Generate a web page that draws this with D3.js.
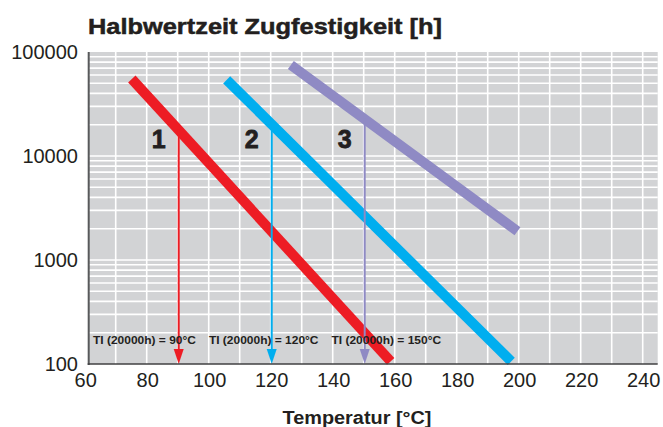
<!DOCTYPE html>
<html>
<head>
<meta charset="utf-8">
<script src="https://cdn.jsdelivr.net/npm/d3@7"></script>
<style>
  html, body { margin: 0; padding: 0; background: #fff; }
  svg { display: block; }
</style>
</head>
<body>
<svg id="chart" width="663" height="427"></svg>
<script>
// ---- data ----
const titleText = "Halbwertzeit Zugfestigkeit [h]";
const xTitleText = "Temperatur [°C]";
const seriesNames = ["1", "2", "3"];
const startTemp = [75.2, 105.8, 126.5];
const startHours = [55000, 54000, 75000];
const endTemp = [158.7, 197.6, 199.6];
const endHours = [106, 106, 1890];
const tiTemp = [90, 120, 150];
const tiHours = 20000;
const tiLabels = ["TI (20000h) = 90°C", "TI (20000h) = 120°C", "TI (20000h) = 150°C"];
const xTicks = [60, 80, 100, 120, 140, 160, 180, 200, 220, 240];
const yTicks = [100, 1000, 10000, 100000];
const seriesColors = ["#ed1c24", "#00aeef", "#8f8ac4"];

// ---- layout ----
const plotLeft = 88.7, plotRight = 657.7, plotTop = 52, plotBottom = 364;
const svg = d3.select("#chart");
const font = "Liberation Sans, Arial, sans-serif";

const x = d3.scaleLinear().domain([100, 200]).range([208.7, 518.7]);
const y = d3.scaleLog().domain([100, 100000]).range([plotBottom, plotTop]);

// background
svg.append("rect")
  .attr("x", plotLeft).attr("y", plotTop)
  .attr("width", plotRight - plotLeft).attr("height", plotBottom - plotTop)
  .attr("fill", "#d2d3d5");

// grid
const grid = svg.append("g").attr("stroke", "#ffffff").attr("stroke-width", 1.6);
const vGrid = d3.range(70, 241, 10);
grid.selectAll("line.v").data(vGrid).join("line")
  .attr("x1", d => x(d)).attr("x2", d => x(d))
  .attr("y1", plotTop).attr("y2", plotBottom);
const hGrid = [];
[100, 1000, 10000].forEach(dec => { for (let k = 2; k <= 10; k++) hGrid.push(dec * k); });
grid.selectAll("line.h").data(hGrid.filter(v => v < 100000)).join("line")
  .attr("x1", plotLeft).attr("x2", plotRight)
  .attr("y1", d => y(d)).attr("y2", d => y(d));

// thick lines
const lineGen = d3.line().x(d => x(d[0])).y(d => y(d[1]));
seriesNames.forEach((s, i) => {
  svg.append("path")
    .datum([[startTemp[i], startHours[i]], [endTemp[i], endHours[i]]])
    .attr("d", lineGen)
    .attr("stroke", seriesColors[i])
    .attr("stroke-width", 10)
    .attr("stroke-linecap", "butt")
    .attr("fill", "none");
});

// arrows
function hoursAt(i, t) {
  const f = (t - startTemp[i]) / (endTemp[i] - startTemp[i]);
  const l = Math.log10(startHours[i]) + f * (Math.log10(endHours[i]) - Math.log10(startHours[i]));
  return Math.pow(10, l);
}
seriesNames.forEach((s, i) => {
  const ax = x(tiTemp[i]) + 1;
  const top = y(hoursAt(i, tiTemp[i]));
  svg.append("line")
    .attr("x1", ax).attr("x2", ax)
    .attr("y1", top).attr("y2", plotBottom - 10)
    .attr("stroke", seriesColors[i]).attr("stroke-width", 2);
  svg.append("path")
    .attr("d", `M${ax - 5},${plotBottom - 15} L${ax + 5},${plotBottom - 15} L${ax},${plotBottom} Z`)
    .attr("fill", seriesColors[i]);
  svg.append("text")
    .attr("x", ax - 20).attr("y", y(tiHours) + 23.5)
    .attr("text-anchor", "middle")
    .attr("font-family", font)
    .attr("font-weight", "bold").attr("font-size", 25)
    .attr("fill", "#231f20")
    .attr("stroke", "#231f20").attr("stroke-width", 0.8)
    .text(s);
});

// TI labels laid out sequentially
let cx = 93;
tiLabels.forEach((t, i) => {
  const tx = svg.append("text")
    .attr("x", cx).attr("y", 344)
    .attr("font-family", font)
    .attr("font-weight", "bold").attr("font-size", 10.5)
    .attr("fill", "#231f20")
    .text(t);
  const w = tx.node().getComputedTextLength() * 1.14;
  tx.attr("textLength", w).attr("lengthAdjust", "spacingAndGlyphs");
  cx += w + 13;
});

// axis lines
svg.append("line")
  .attr("x1", plotLeft).attr("x2", plotLeft)
  .attr("y1", plotTop).attr("y2", plotBottom + 1)
  .attr("stroke", "#58595b").attr("stroke-width", 2);
svg.append("line")
  .attr("x1", plotLeft - 1).attr("x2", plotRight)
  .attr("y1", plotBottom).attr("y2", plotBottom)
  .attr("stroke", "#414042").attr("stroke-width", 1.6);

// tick labels
svg.append("g").selectAll("text").data(yTicks).join("text")
  .attr("x", 78).attr("y", d => y(d))
  .attr("dy", "0.36em")
  .attr("text-anchor", "end")
  .attr("font-family", font)
  .attr("font-size", 20)
  .attr("fill", "#231f20")
  .text(d => d);
svg.append("g").selectAll("text").data(xTicks).join("text")
  .attr("x", d => x(d) + 1).attr("y", 387)
  .attr("text-anchor", "middle")
  .attr("font-family", font)
  .attr("font-size", 20)
  .attr("fill", "#231f20")
  .text(d => d);

// titles
svg.append("text")
  .attr("x", 88).attr("y", 34)
  .attr("font-family", font)
  .attr("font-weight", "bold").attr("font-size", 22)
  .attr("textLength", 354).attr("lengthAdjust", "spacingAndGlyphs")
  .attr("fill", "#231f20")
  .attr("stroke", "#231f20").attr("stroke-width", 0.5)
  .text(titleText);
svg.append("text")
  .attr("x", 357).attr("y", 424)
  .attr("text-anchor", "middle")
  .attr("font-family", font)
  .attr("font-weight", "bold").attr("font-size", 18)
  .attr("textLength", 149).attr("lengthAdjust", "spacingAndGlyphs")
  .attr("fill", "#231f20")
  .text(xTitleText);
</script>
</body>
</html>
